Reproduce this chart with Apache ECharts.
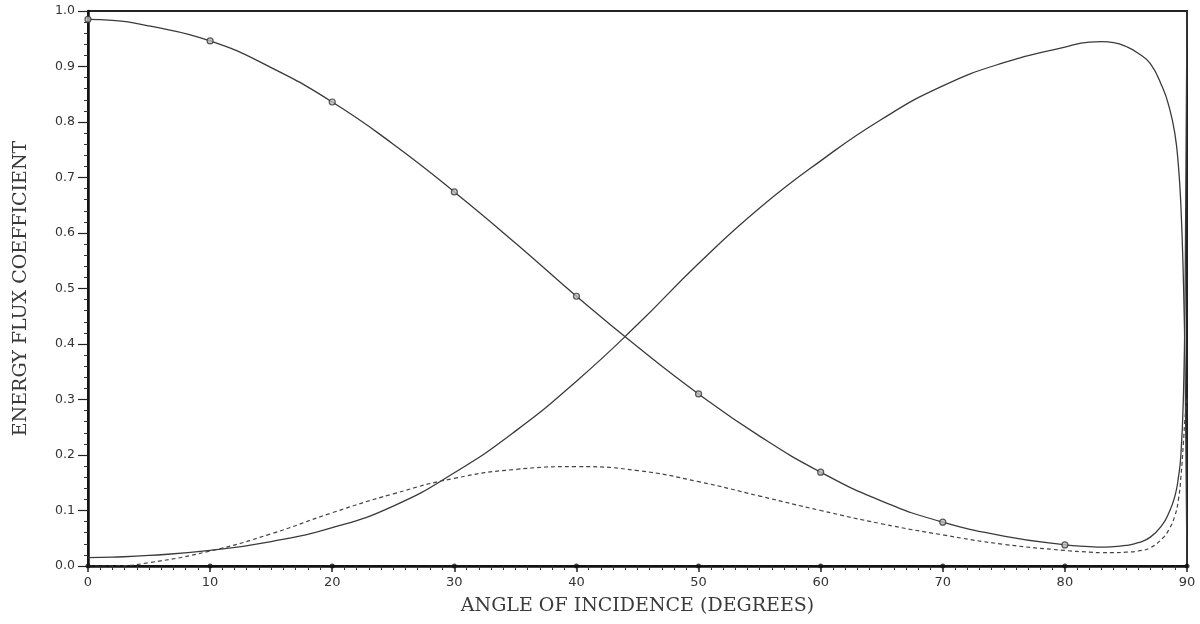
<!DOCTYPE html>
<html>
<head>
<meta charset="utf-8">
<script src="https://cdn.jsdelivr.net/npm/echarts@6/dist/echarts.min.js"></script>
<style>
  html, body { margin: 0; padding: 0; background: #fff; }
  #chart { width: 1200px; height: 624px; }
</style>
</head>
<body>
<div id="chart"></div>
<script>
// Angle of incidence samples (degrees), denser near grazing incidence
const angles = [0, 2, 5, 10, 15, 20, 25, 30, 35, 40, 45, 50, 55, 60, 65, 70, 75, 80,
                82, 83, 84, 85, 86, 87, 88, 88.5, 89, 89.3, 89.5, 89.7, 89.85, 90];

// Reflected energy flux (solid, marked every 10 degrees)
const reflected = [0.985, 0.983, 0.973, 0.946, 0.898, 0.836, 0.760, 0.674, 0.582, 0.486,
                   0.395, 0.310, 0.234, 0.169, 0.117, 0.079, 0.054, 0.038,
                   0.035, 0.034, 0.035, 0.037, 0.042, 0.052, 0.075, 0.095, 0.125, 0.160,
                   0.200, 0.300, 0.500, 1.000];

// Converted-wave energy flux (solid, no markers)
const converted = [0.015, 0.016, 0.019, 0.028, 0.044, 0.069, 0.108, 0.168, 0.243, 0.333,
                   0.435, 0.545, 0.645, 0.730, 0.805, 0.865, 0.907, 0.935,
                   0.944, 0.945, 0.943, 0.936, 0.924, 0.905, 0.862, 0.830, 0.780, 0.720,
                   0.650, 0.520, 0.350, 0.000];

// Transmitted energy flux (dashed)
const transmitted = [0.000, 0.000, 0.006, 0.027, 0.058, 0.096, 0.130, 0.158, 0.174, 0.179,
                     0.172, 0.152, 0.126, 0.100, 0.076, 0.056, 0.039, 0.028,
                     0.025, 0.024, 0.024, 0.025, 0.027, 0.033, 0.050, 0.065, 0.090, 0.120,
                     0.160, 0.220, 0.270, 0.300];

// Major tick positions on the angle axis
const angleTicks = [0, 10, 20, 30, 40, 50, 60, 70, 80, 90];

const pairs = (ys) => angles.map((a, i) => [a, ys[i]]);
const markerPts = angles
  .map((a, i) => [a, reflected[i]])
  .filter(p => p[0] % 10 === 0 && p[0] <= 80);

const ink = '#3a3a3a';
const titleFont = { fontFamily: 'DejaVu Serif', fontSize: 19, color: '#3a3a3a' };
const chart = echarts.init(document.getElementById('chart'), null, { renderer: 'canvas' });

chart.setOption({
  animation: false,
  backgroundColor: '#ffffff',
  grid: {
    left: 88, right: 13, top: 11, bottom: 58,
    show: true, borderColor: '#222', borderWidth: 2, backgroundColor: 'transparent'
  },
  xAxis: {
    type: 'value', min: 0, max: 90, interval: 10,
    name: 'ANGLE OF INCIDENCE (DEGREES)',
    nameLocation: 'middle', nameGap: 31,
    nameTextStyle: titleFont,
    axisLine: { show: true, lineStyle: { color: '#111', width: 2.5 } },
    axisTick: { show: true, length: 6, lineStyle: { color: '#222', width: 1.5 } },
    minorTick: { show: true, splitNumber: 10, length: 4, lineStyle: { color: '#333', width: 1 } },
    axisLabel: { margin: 10, fontFamily: 'DejaVu Sans', fontSize: 13, color: '#333' },
    splitLine: { show: false }
  },
  yAxis: {
    type: 'value', min: 0, max: 1, interval: 0.1,
    name: 'ENERGY FLUX COEFFICIENT',
    nameLocation: 'middle', nameGap: 57, nameRotate: 90,
    nameTextStyle: titleFont,
    axisLine: { show: true, lineStyle: { color: '#111', width: 2.5 } },
    axisTick: { show: true, length: 10, lineStyle: { color: '#222', width: 1.2 } },
    minorTick: { show: true, splitNumber: 5, length: 4, lineStyle: { color: '#333', width: 1 } },
    axisLabel: {
      margin: 13, fontFamily: 'DejaVu Sans', fontSize: 12.5, color: '#333',
      formatter: v => v.toFixed(1)
    },
    splitLine: { show: false }
  },
  series: [
    {
      name: 'reflected', type: 'line', data: pairs(reflected),
      smooth: 0.5, showSymbol: false,
      lineStyle: { color: ink, width: 1.3 }, z: 3
    },
    {
      name: 'reflected-markers', type: 'scatter', data: markerPts,
      symbol: 'circle', symbolSize: 6,
      itemStyle: { color: '#bbb', borderColor: '#333', borderWidth: 1.2 },
      clip: false, z: 4
    },
    {
      name: 'converted', type: 'line', data: pairs(converted),
      smooth: 0.5, showSymbol: false,
      lineStyle: { color: ink, width: 1.3 }, z: 3
    },
    {
      name: 'transmitted', type: 'line', data: pairs(transmitted),
      smooth: 0.5, showSymbol: false,
      lineStyle: { color: '#444', width: 1.2, type: [4, 3] }, z: 3
    },
    {
      name: 'tick-dots', type: 'scatter',
      data: angleTicks.map(t => [t, 0]),
      symbol: 'circle', symbolSize: 5,
      itemStyle: { color: '#111' }, clip: false, z: 5, silent: true
    }
  ]
});
</script>
</body>
</html>
